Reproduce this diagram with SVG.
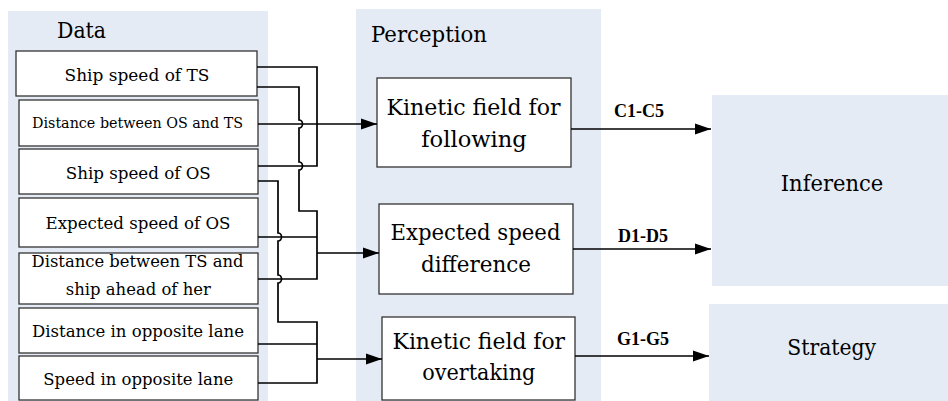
<svg xmlns="http://www.w3.org/2000/svg" width="948" height="401" viewBox="0 0 948 401">
<style>
.panel{fill:#E5EBF5;stroke:none}
.box{fill:#ffffff;stroke:#333333;stroke-width:1.3}
.t{font-family:"DejaVu Serif","Liberation Serif",serif;fill:#000;text-anchor:middle}
.big{font-size:22.6px}
.mid{font-size:17.5px}
.sm{font-size:15px}
.lbl{font-family:"Liberation Serif",serif;font-size:18px;font-weight:bold;fill:#000}
.ln{fill:none;stroke:#000;stroke-width:1.7}
</style>
<defs>
<marker id="arr" markerUnits="userSpaceOnUse" markerWidth="16" markerHeight="12" refX="16" refY="6" orient="auto">
<path d="M0,0.5 L16,6 L0,11.5 z" fill="#000"/>
</marker>
</defs>

<g id="panel-data">
<rect class="panel" x="8" y="11" width="260" height="390"/>
<text class="t big" x="81.5" y="38" textLength="49" lengthAdjust="spacingAndGlyphs">Data</text>
</g>
<g id="panel-perception">
<rect class="panel" x="356" y="9" width="245" height="392"/>
<text class="t big" x="429" y="42" textLength="116" lengthAdjust="spacingAndGlyphs">Perception</text>
</g>

<g id="data-ts-speed"><rect class="box" x="16" y="51" width="241" height="45"/><text class="t mid" x="137" y="81" textLength="145" lengthAdjust="spacingAndGlyphs">Ship speed of TS</text></g>
<g id="data-dist-os-ts"><rect class="box" x="19" y="100" width="239" height="46"/><text class="t sm" x="137.5" y="128" textLength="211" lengthAdjust="spacingAndGlyphs">Distance between OS and TS</text></g>
<g id="data-os-speed"><rect class="box" x="19" y="149" width="239" height="45"/><text class="t mid" x="138.3" y="178.5" textLength="145" lengthAdjust="spacingAndGlyphs">Ship speed of OS</text></g>
<g id="data-expected-os"><rect class="box" x="19" y="198" width="239" height="49"/><text class="t mid" x="138" y="229" textLength="185" lengthAdjust="spacingAndGlyphs">Expected speed of OS</text></g>
<g id="data-dist-ts-ahead"><rect class="box" x="19" y="253" width="239" height="51"/><text class="t mid" x="137.5" y="267" textLength="212" lengthAdjust="spacingAndGlyphs">Distance between TS and</text><text class="t mid" x="138.3" y="294.5" textLength="145" lengthAdjust="spacingAndGlyphs">ship ahead of her</text></g>
<g id="data-dist-opposite"><rect class="box" x="19" y="308" width="239" height="45"/><text class="t mid" x="138" y="337" textLength="212" lengthAdjust="spacingAndGlyphs">Distance in opposite lane</text></g>
<g id="data-speed-opposite"><rect class="box" x="19" y="356" width="239" height="44"/><text class="t mid" x="138.3" y="385" textLength="190" lengthAdjust="spacingAndGlyphs">Speed in opposite lane</text></g>

<g id="p-following"><rect class="box" x="377" y="78" width="194" height="89"/><text class="t big" x="473.5" y="115" textLength="174" lengthAdjust="spacingAndGlyphs">Kinetic field for</text><text class="t big" x="474" y="147" textLength="105.5" lengthAdjust="spacingAndGlyphs">following</text></g>
<g id="p-expected"><rect class="box" x="379" y="204" width="194" height="90"/><text class="t big" x="475.5" y="240" textLength="170" lengthAdjust="spacingAndGlyphs">Expected speed</text><text class="t big" x="476" y="272" textLength="110" lengthAdjust="spacingAndGlyphs">difference</text></g>
<g id="p-overtaking"><rect class="box" x="382" y="317" width="193" height="83"/><text class="t big" x="478.8" y="349" textLength="172.5" lengthAdjust="spacingAndGlyphs">Kinetic field for</text><text class="t big" x="478.8" y="380" textLength="113" lengthAdjust="spacingAndGlyphs">overtaking</text></g>

<g id="inference"><rect class="panel" x="712" y="95" width="236" height="191"/><text class="t big" x="832" y="191" textLength="102.5" lengthAdjust="spacingAndGlyphs">Inference</text></g>
<g id="strategy"><rect class="panel" x="709" y="304" width="239" height="97"/><text class="t big" x="831.7" y="355" textLength="88.7" lengthAdjust="spacingAndGlyphs">Strategy</text></g>

<g id="connectors">
<path class="ln" d="M257,67 H317 V166 H258"/>
<path class="ln" d="M258,124 H377" marker-end="url(#arr)"/>
<path class="ln" d="M257,87 H299 V120 A3.5,4 0 0,1 299,128 V162 A3.5,4 0 0,1 299,170 V211 H317 V279 H258"/>
<path class="ln" d="M258,237 H317"/>
<path class="ln" d="M317,253 H379" marker-end="url(#arr)"/>
<path class="ln" d="M258,181 H278 V233 A3.5,4 0 0,1 278,241 V275 A3.5,4 0 0,1 278,283 V322 H317 V383 H258"/>
<path class="ln" d="M258,344 H317"/>
<path class="ln" d="M317,359 H382" marker-end="url(#arr)"/>
<path class="ln" d="M571,129 H711" marker-end="url(#arr)"/>
<path class="ln" d="M573,249 H711" marker-end="url(#arr)"/>
<path class="ln" d="M575,356 H709" marker-end="url(#arr)"/>
<text class="lbl" x="614" y="117">C1-C5</text>
<text class="lbl" x="618" y="242">D1-D5</text>
<text class="lbl" x="617" y="345">G1-G5</text>
</g>
</svg>
